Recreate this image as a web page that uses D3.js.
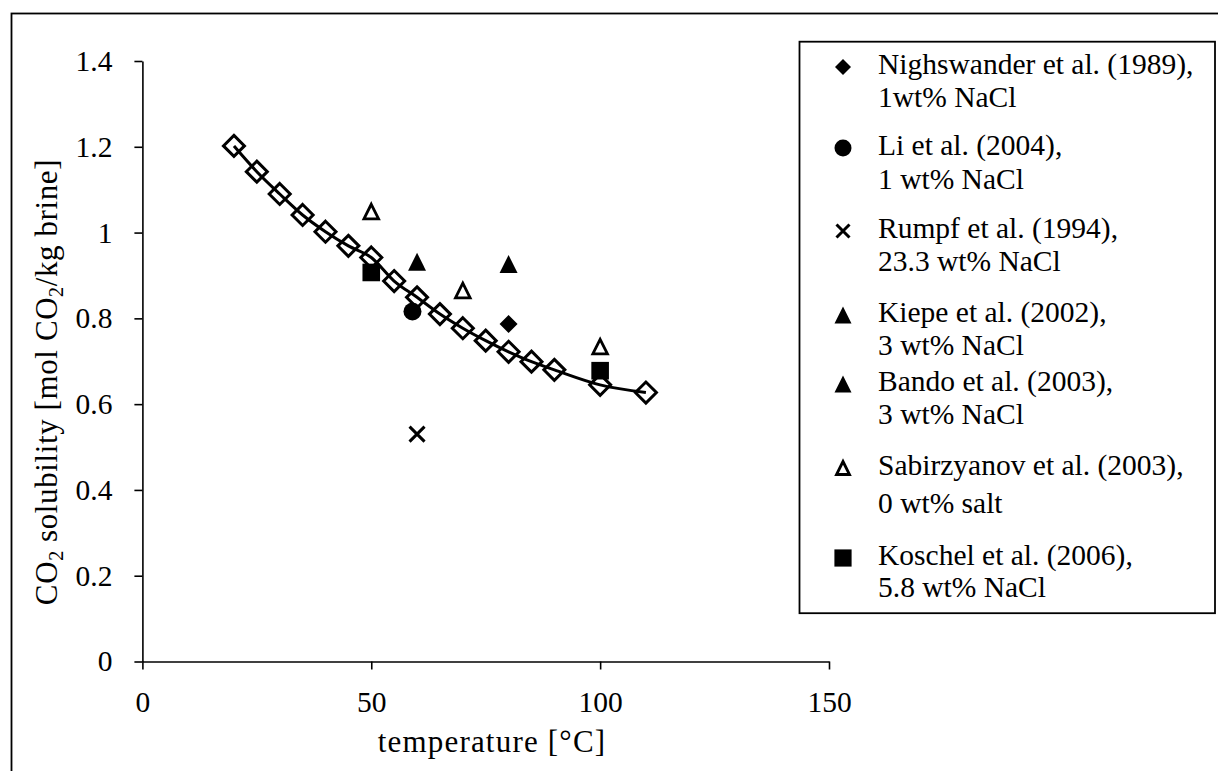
<!DOCTYPE html>
<html>
<head>
<meta charset="utf-8">
<script src="https://cdn.jsdelivr.net/npm/d3@7"></script>
<style>
  body { margin: 0; background: #fff; }
  svg { display: block; font-family: "Liberation Serif", "Times New Roman", serif; }
</style>
</head>
<body>
<div id="svganchor"></div>
<script>
/*
------------------------------
DATA: values
------------------------------
*/
// model curve (open diamonds joined by the line)
const modelT = [20, 25, 30, 35, 40, 45, 50, 55, 60, 65, 70, 75, 80, 85, 90, 100, 110];
const modelS = [1.202, 1.142, 1.090, 1.041, 1.002, 0.969, 0.942, 0.887, 0.849, 0.810, 0.777, 0.748, 0.722, 0.699, 0.680, 0.645, 0.627];

// experimental points
const nighswanderT = [80];
const nighswanderS = [0.787];
const liT = [59];
const liS = [0.816];
const rumpfT = [60];
const rumpfS = [0.530];
const kiepeT = [80];
const kiepeS = [0.927];
const bandoT = [60];
const bandoS = [0.932];
const sabirT = [50, 70, 100];
const sabirS = [1.049, 0.865, 0.734];
const koschelT = [50, 100];
const koschelS = [0.907, 0.678];

const legendLine1 = [
  "Nighswander et al. (1989),",
  "Li et al. (2004),",
  "Rumpf et al. (1994),",
  "Kiepe et al. (2002),",
  "Bando et al. (2003),",
  "Sabirzyanov et al. (2003),",
  "Koschel et al. (2006),"
];
const legendLine2 = [
  "1wt% NaCl",
  "1 wt% NaCl",
  "23.3 wt% NaCl",
  "3 wt% NaCl",
  "3 wt% NaCl",
  "0 wt% salt",
  "5.8 wt% NaCl"
];

const xTicks = [0, 50, 100, 150];
const yTicks = [0, 0.2, 0.4, 0.6, 0.8, 1, 1.2, 1.4];

/*
------------------------------
METHOD: canvas + scales
------------------------------
*/
const width = 1218;
const height = 771;
const plot = { left: 142.4, right: 829, top: 61, bottom: 661.5 };

const x = d3.scaleLinear([0, 150], [plot.left, plot.right]);
const y = d3.scaleLinear([0, 1.4], [plot.bottom, plot.top]);

const svg = d3.select("#svganchor")
  .append("svg")
  .attr("width", width)
  .attr("height", height);

// frame round the whole figure (runs off right / bottom)
svg.append("rect")
  .attr("x", 11.5).attr("y", 13.5)
  .attr("width", 1300).attr("height", 900)
  .attr("fill", "none")
  .attr("stroke", "#000")
  .attr("stroke-width", 1.8);

// marker shapes, r = half size
function markerPath(kind, r) {
  switch (kind) {
    case "diamond":
      return `M0,${-r}L${r},0L0,${r}L${-r},0Z`;
    case "circle":
      return d3.symbol(d3.symbolCircle, Math.PI * r * r)();
    case "square":
      return `M${-r},${-r}h${2 * r}v${2 * r}h${-2 * r}Z`;
    case "triangle":
      return `M0,${-r}L${r},${r}L${-r},${r}Z`;
    case "x":
      return `M${-r},${-r}L${r},${r}M${-r},${r}L${r},${-r}`;
  }
}

const series = [
  { t: nighswanderT, s: nighswanderS, kind: "diamond", filled: true, r: 9, lr: 8 },
  { t: liT, s: liS, kind: "circle", filled: true, r: 9, lr: 8.5 },
  { t: rumpfT, s: rumpfS, kind: "x", filled: false, r: 7.5, lr: 6.5 },
  { t: kiepeT, s: kiepeS, kind: "triangle", filled: true, r: 9, lr: 8.5 },
  { t: bandoT, s: bandoS, kind: "triangle", filled: true, r: 9, lr: 8.5 },
  { t: sabirT, s: sabirS, kind: "triangle", filled: false, r: 7.3, lr: 6.5 },
  { t: koschelT, s: koschelS, kind: "square", filled: true, r: 8.8, lr: 8.6 }
];

function styleMarker(sel, d) {
  if (d.kind === "x") {
    sel.attr("fill", "none").attr("stroke", "#000").attr("stroke-width", 3);
  } else if (d.filled) {
    sel.attr("fill", "#000").attr("stroke", "none");
  } else {
    sel.attr("fill", "#fff").attr("stroke", "#000").attr("stroke-width", 2.8);
  }
}

/*
------------------------------
SECTION: axes
------------------------------
*/
const yAxis = svg.append("g")
  .attr("transform", `translate(${plot.left},0)`)
  .call(d3.axisLeft(y).tickValues(yTicks).tickSize(8).tickSizeOuter(0).tickPadding(22).tickFormat(d => String(d)));

const xAxis = svg.append("g")
  .attr("transform", `translate(0,${plot.bottom})`)
  .call(d3.axisBottom(x).tickValues(xTicks).tickSize(8).tickSizeOuter(0).tickPadding(22));

[xAxis, yAxis].forEach(g => {
  g.attr("font-family", null).attr("font-size", 29.5);
  g.selectAll("path, line").attr("stroke", "#000").attr("stroke-width", 1.6);
  g.selectAll("text").attr("fill", "#000");
});

svg.append("text")
  .attr("x", 492)
  .attr("y", 752)
  .attr("text-anchor", "middle")
  .attr("font-size", 31)
  .attr("letter-spacing", 1.2)
  .text("temperature [°C]");

const yTitle = svg.append("text")
  .attr("transform", "translate(57,382) rotate(-90)")
  .attr("text-anchor", "middle")
  .attr("font-size", 31)
  .attr("letter-spacing", 0.6);
yTitle.append("tspan").text("CO");
yTitle.append("tspan").attr("font-size", 20).attr("dy", 6).text("2");
yTitle.append("tspan").attr("dy", -6).text(" solubility [mol CO");
yTitle.append("tspan").attr("font-size", 20).attr("dy", 6).text("2");
yTitle.append("tspan").attr("dy", -6).text("/kg brine]");

/*
------------------------------
SECTION: model line + open diamonds
------------------------------
*/
const modelData = modelT.map((t, i) => ({ t: t, s: modelS[i] }));

svg.append("path")
  .datum(modelData)
  .attr("fill", "none")
  .attr("stroke", "#000")
  .attr("stroke-width", 3)
  .attr("d", d3.line().x(d => x(d.t)).y(d => y(d.s)).curve(d3.curveMonotoneX));

svg.append("g")
  .selectAll("path")
  .data(modelData)
  .join("path")
  .attr("transform", d => `translate(${x(d.t)},${y(d.s)})`)
  .attr("d", markerPath("diamond", 10.5))
  .attr("fill", "none")
  .attr("stroke", "#000")
  .attr("stroke-width", 3);

/*
------------------------------
SECTION: experimental points
------------------------------
*/
series.forEach(ser => {
  const pts = ser.t.map((t, i) => ({ t: t, s: ser.s[i] }));
  svg.append("g")
    .selectAll("path")
    .data(pts)
    .join("path")
    .attr("transform", d => `translate(${x(d.t)},${y(d.s)})`)
    .attr("d", markerPath(ser.kind, ser.r))
    .call(sel => styleMarker(sel, ser));
});

/*
------------------------------
SECTION: legend
------------------------------
*/
const legend = svg.append("g");
legend.append("rect")
  .attr("x", 799.5).attr("y", 41.7)
  .attr("width", 415.5).attr("height", 571.5)
  .attr("fill", "#fff")
  .attr("stroke", "#000")
  .attr("stroke-width", 1.8);

// baseline of the first line for each entry (Excel spacing is uneven)
const legendTop = [74, 155, 238, 322, 391, 475, 565];
const legendGap = [33, 34, 33, 33, 33, 38, 32];

const items = legend.selectAll("g.item")
  .data(series)
  .join("g")
  .attr("class", "item")
  .attr("transform", (d, i) => `translate(0,${legendTop[i]})`);

items.append("path")
  .attr("transform", "translate(843,-7)")
  .attr("d", d => markerPath(d.kind, d.lr))
  .each(function (d) { styleMarker(d3.select(this), d); });

items.append("text")
  .attr("x", 878)
  .attr("font-size", 29.5)
  .text((d, i) => legendLine1[i]);

items.append("text")
  .attr("x", 878)
  .attr("y", (d, i) => legendGap[i])
  .attr("font-size", 29.5)
  .text((d, i) => legendLine2[i]);
</script>
</body>
</html>
